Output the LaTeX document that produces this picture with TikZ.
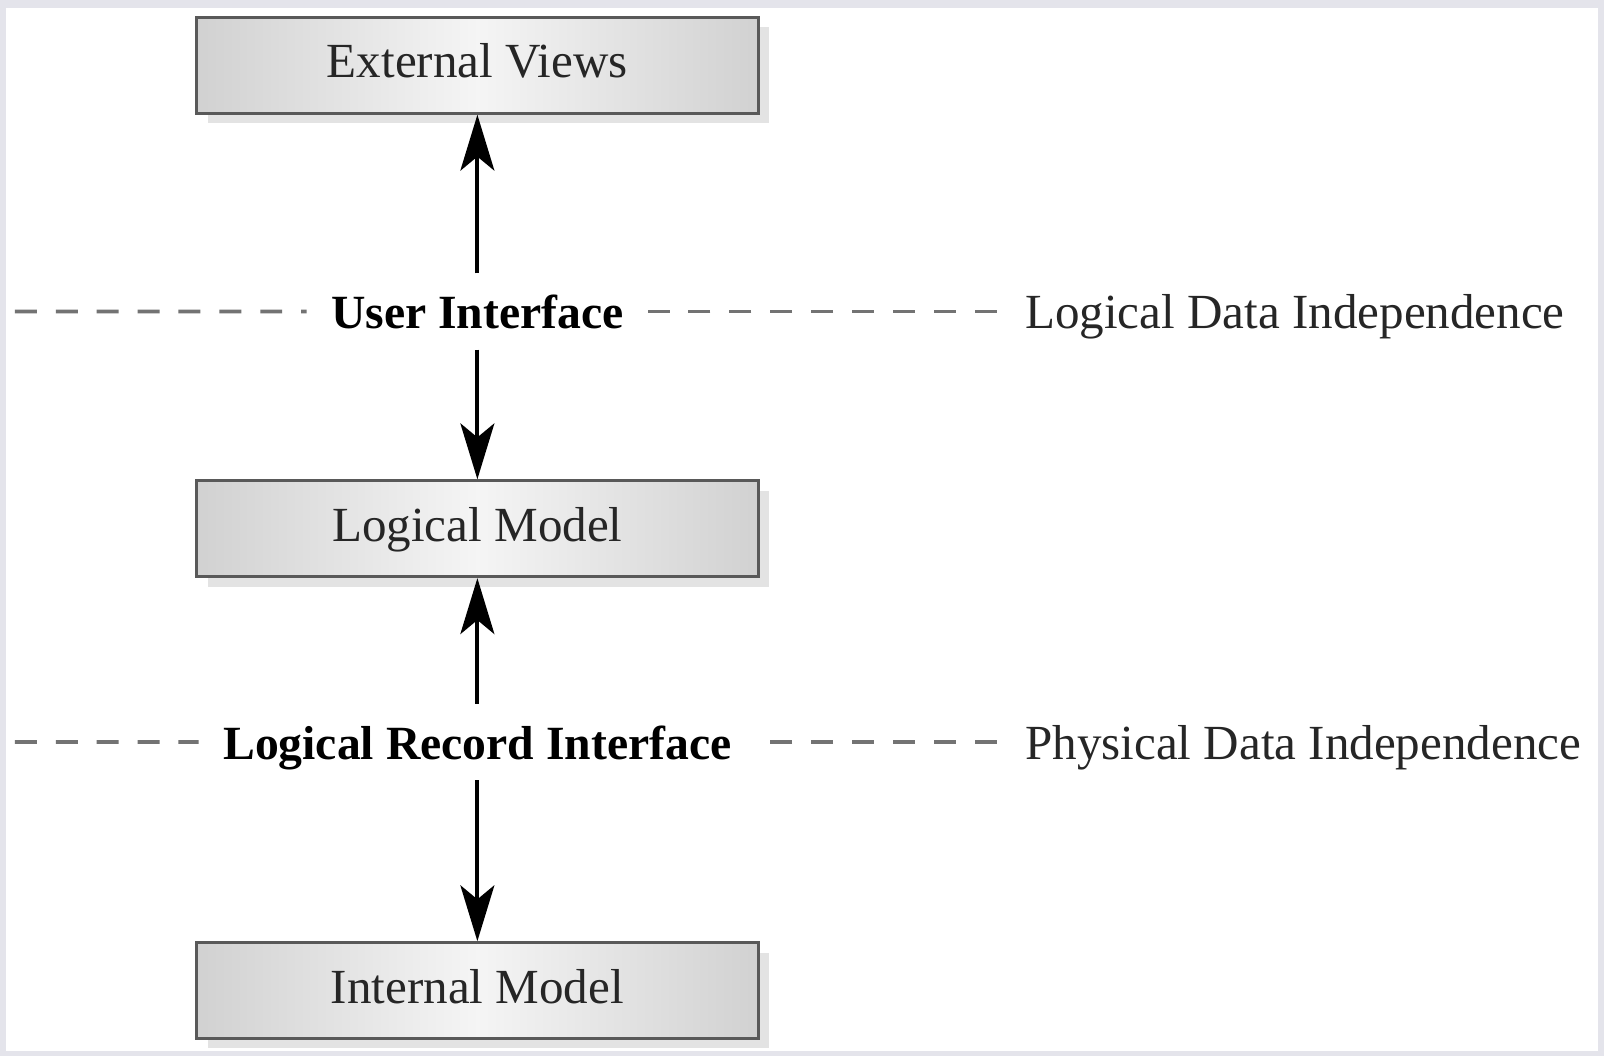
\documentclass[tikz,border=0pt]{standalone}
\usepackage{fontspec}
\setmainfont{Liberation Serif}
\usetikzlibrary{arrows.meta,shadows}
\definecolor{framegray}{RGB}{228,228,235}
\tikzset{
  box/.style={draw=black!65, line width=0.9pt, left color=black!18, right color=black!18, middle color=black!4,
    minimum width=5.63cm, minimum height=0.96cm, inner sep=0pt, text height=0.35cm, text depth=0.1cm,
    font=\fontsize{14}{16}\selectfont, text=black!85,
    drop shadow={shadow xshift=0.11cm, shadow yshift=-0.1cm, fill=black!11, opacity=1}},
  lbl/.style={anchor=base, inner xsep=0.24cm, inner ysep=0.2cm, text height=0.35cm, text depth=0cm,
    font=\fontsize{13.6}{16}\selectfont\bfseries},
  side/.style={lbl, anchor=base west, inner xsep=0.28cm, font=\fontsize{14}{16}\selectfont, text=black!85},
  arr/.style={line width=0.04cm, -{Stealth[length=0.56cm, width=0.34cm, inset=0.14cm]}},
  sep/.style={draw=black!55, line width=0.038cm, dash pattern=on 0.22cm off 0.19cm},
}
\begin{document}
\begin{tikzpicture}[x=0.01cm,y=-0.01cm]
    % frame
    \fill[framegray] (0,0) rectangle (1609,1060);
    \fill[white] (6,8) rectangle (1603,1055);
    % levels
    \node[box] (ev) at (479,65.5) {External Views};
    \node[box] (lm) at (479,530.5) {Logical Model};
    \node[box] (im) at (479,994) {Internal Model};
    % interfaces
    \node[lbl] (ui) at (479,330) {User Interface};
    \node[lbl] (lri) at (479,762) {Logical Record Interface};
    \node[side] (ldi) at (1000,330) {Logical Data Independence};
    \node[side] (pdi) at (1000,762) {Physical Data Independence};
    \coordinate (uiL) at (15,312.5);
    \coordinate (lriL) at (15,744.5);
    \draw[sep] (uiL) -- (ui.west);
    \draw[sep] (ldi.west) -- (ui.east);
    \draw[sep] (lriL) -- (lri.west);
    \draw[sep] (pdi.west) -- (lri.east);
    % mappings
    \draw[arr] (ui) -- (ev);
    \draw[arr] (ui) -- (lm);
    \draw[arr] (lri) -- (lm);
    \draw[arr] (lri) -- (im);
\end{tikzpicture}
\end{document}
